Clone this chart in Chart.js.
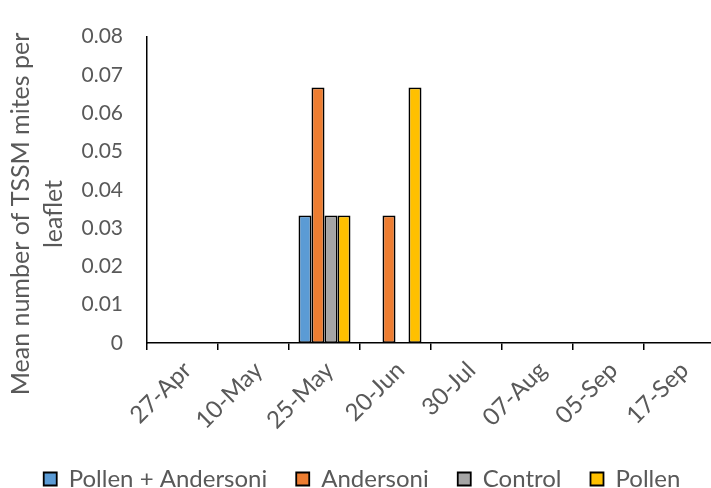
<!DOCTYPE html>
<html>
<head>
<meta charset="utf-8">
<script src="https://cdn.jsdelivr.net/npm/chart.js@4"></script>
<style>
  html, body { margin: 0; padding: 0; background: #fff; overflow: hidden; }
  #wrap { width: 730px; height: 501px; }
</style>
</head>
<body>
<div id="wrap"><canvas id="chart" width="730" height="501"></canvas></div>
<script>
// Sampling dates
const categories = ['27-Apr', '10-May', '25-May', '20-Jun', '30-Jul', '07-Aug', '05-Sep', '17-Sep'];

// Mean TSSM mites per leaflet for each treatment
const pollenAndersoni = [0, 0, 0.0333, 0, 0, 0, 0, 0];
const andersoni       = [0, 0, 0.0667, 0.0333, 0, 0, 0, 0];
const control         = [0, 0, 0.0333, 0, 0, 0, 0, 0];
const pollen          = [0, 0, 0.0333, 0.0667, 0, 0, 0, 0];

const seriesNames = ['Pollen + Andersoni', 'Andersoni', 'Control', 'Pollen'];
const yTickLabels = ['0', '0.01', '0.02', '0.03', '0.04', '0.05', '0.06', '0.07', '0.08'];
const yTitleLines = ['Mean number of TSSM mites per', 'leaflet'];

const TEXT = '#595959';
const FONT = 'Lato, "Open Sans", sans-serif';

// Two-line rotated title for the value axis
const yTitlePlugin = {
  id: 'yTitle',
  afterDraw(chart) {
    const ctx = chart.ctx;
    ctx.save();
    ctx.fillStyle = TEXT;
    ctx.font = '25px ' + FONT;
    ctx.textAlign = 'center';
    ctx.textBaseline = 'alphabetic';
    const cy = 214;
    const baselines = [29, 62];
    yTitleLines.forEach((line, i) => {
      ctx.save();
      ctx.translate(baselines[i], cy);
      ctx.rotate(-Math.PI / 2);
      ctx.fillText(line, 0, 0);
      ctx.restore();
    });
    ctx.restore();
  }
};

const mkSet = (label, data, color) => ({
  label,
  data,
  backgroundColor: color,
  borderColor: '#000',
  borderWidth: 1.8,
  borderSkipped: false
});

new Chart(document.getElementById('chart'), {
  type: 'bar',
  data: {
    labels: categories,
    datasets: [
      mkSet(seriesNames[0], pollenAndersoni, '#5B9BD5'),
      mkSet(seriesNames[1], andersoni, '#ED7D31'),
      mkSet(seriesNames[2], control, '#A5A5A5'),
      mkSet(seriesNames[3], pollen, '#FFC000')
    ]
  },
  options: {
    responsive: false,
    animation: false,
    devicePixelRatio: 1,
    layout: { padding: { top: 25, left: 9, right: 15, bottom: 0 } },
    datasets: { bar: { categoryPercentage: 0.732, barPercentage: 1 } },
    plugins: {
      tooltip: { enabled: false },
      legend: {
        position: 'bottom',
        align: 'center',
        labels: {
          color: TEXT,
          font: { family: FONT, size: 24 },
          boxWidth: 13,
          boxHeight: 13,
          padding: 29
        }
      }
    },
    scales: {
      x: {
        offset: true,
        grid: {
          offset: true,
          display: true,
          drawOnChartArea: false,
          drawTicks: true,
          tickLength: 7,
          color: '#000',
          lineWidth: 1.5
        },
        border: { display: true, color: '#000', width: 1.5 },
        ticks: {
          color: TEXT,
          font: { family: FONT, size: 24 },
          minRotation: 45,
          maxRotation: 45,
          autoSkip: false,
          padding: 6,
          labelOffset: 5
        },
        afterFit(scale) { scale.height = 95; }
      },
      y: {
        min: 0,
        max: 0.08,
        grid: { display: false, drawTicks: false },
        border: { display: true, color: '#000', width: 1.5 },
        ticks: {
          stepSize: 0.01,
          color: TEXT,
          font: { family: FONT, size: 21 },
          padding: 24,
          callback: (v, i) => yTickLabels[i]
        },
        afterFit(scale) { scale.width = 138; }
      }
    }
  },
  plugins: [yTitlePlugin]
});
</script>
</body>
</html>
